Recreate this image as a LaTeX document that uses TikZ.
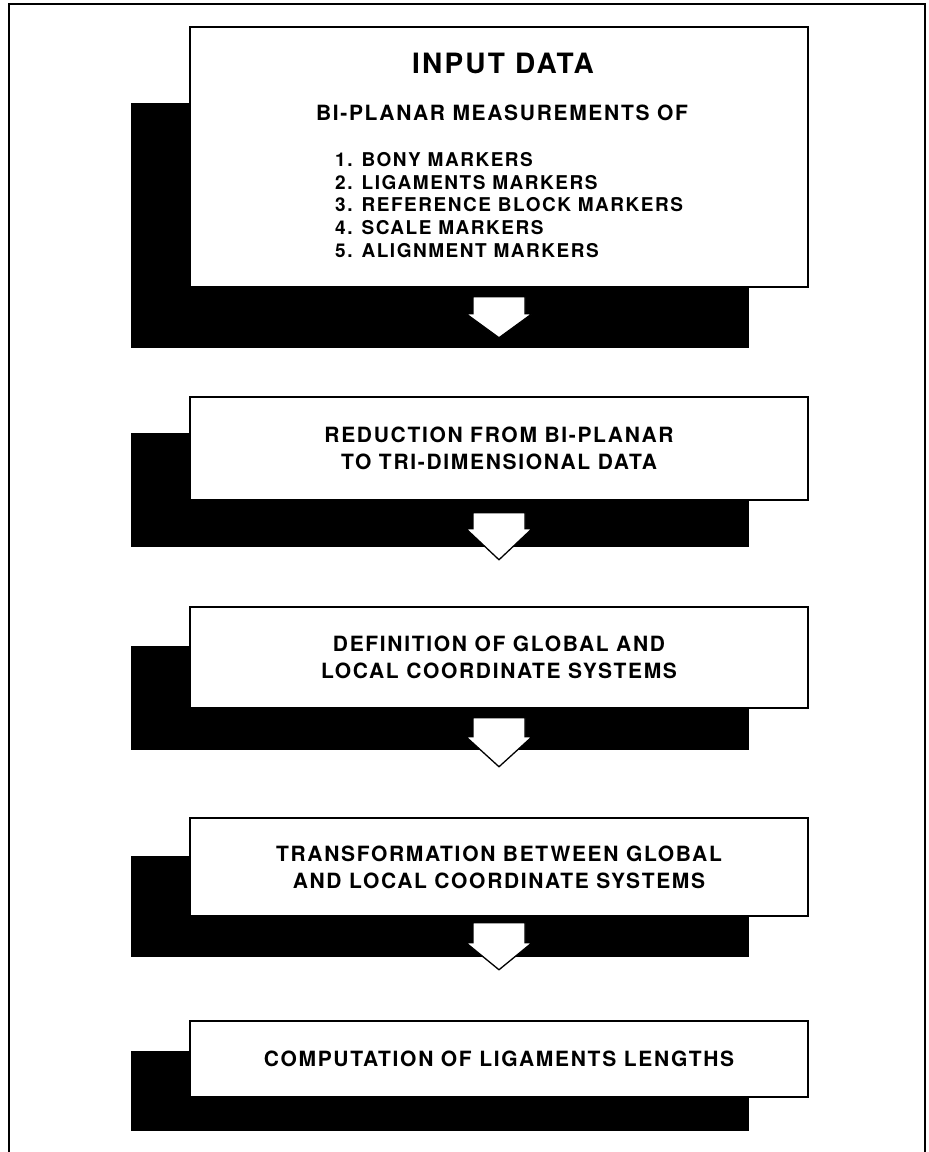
\documentclass[tikz,border=0pt]{standalone}
\usepackage{fontspec}
\usetikzlibrary{calc}
\newfontfamily\chartfont[LetterSpace=8]{TeX Gyre Heros}
\tikzset{
 stage/.style={draw,fill=white,line width=1.5pt,minimum width=618pt,inner sep=0pt},
 stagetext/.style={font=\chartfont\bfseries\fontsize{21}{27}\selectfont,align=center,inner sep=0pt},
 blockarrow/.style={draw,fill=white,line width=1.3pt,line join=miter}
}
% white block arrow under a stage: #2 gap, #3 shaft, #4 head
\newcommand\stagearrow[4]{%
 \filldraw[blockarrow] ($(#1.south)+(-26,#2)$) -- ++(52,0) -- ++(0,#3)
   -- ++(7,0) -- ++(-33,#4) -- ++(-33,-#4) -- ++(7,0) -- cycle;}

\begin{document}
\begin{tikzpicture}[x=1pt,y=-1pt]
 \useasboundingbox (0,0) rectangle (929,1152);
 \draw[line width=1.5pt] (9,1152) |- (925,4) -- (925,1152);
 % shadows
 \fill (131,103) rectangle (749,348);
 \fill (131,433) rectangle (749,547);
 \fill (131,646) rectangle (749,750);
 \fill (131,856) rectangle (749,957);
 \fill (131,1051) rectangle (749,1131);
 % stages
 \node[stage,minimum height=260pt] (input) at (499,157) {};
 \node[stage,minimum height=103pt,stagetext] (reduce) at (499,448.5)
   {REDUCTION FROM BI-PLANAR\\TO TRI-DIMENSIONAL DATA};
 \node[stage,minimum height=101pt,stagetext] (define) at (499,657.5)
   {DEFINITION OF GLOBAL AND\\LOCAL COORDINATE SYSTEMS};
 \node[stage,minimum height=98pt,stagetext] (transform) at (499,867)
   {TRANSFORMATION BETWEEN GLOBAL\\AND LOCAL COORDINATE SYSTEMS};
 \node[stage,minimum height=76pt,stagetext] (compute) at (499,1059)
   {COMPUTATION OF LIGAMENTS LENGTHS};
 % input data text
 \node[stagetext,font=\chartfont\bfseries\fontsize{28}{32}\selectfont]
   (title) at (503,63) {INPUT DATA};
 \node[stagetext] (sub) at (502,113) {BI-PLANAR MEASUREMENTS OF};
 \node[stagetext,align=left,anchor=west,font=\chartfont\bfseries\fontsize{19}{22.9}\selectfont]
   (items) at (335,205) {1. BONY MARKERS\\2. LIGAMENTS MARKERS\\
   3. REFERENCE BLOCK MARKERS\\4. SCALE MARKERS\\
   5. ALIGNMENT MARKERS};
 \stagearrow{input}{9}{17}{24}
 \stagearrow{reduce}{12}{16}{31}
 \stagearrow{define}{9}{19}{30}
 \stagearrow{transform}{6}{20}{27}
\end{tikzpicture}
\end{document}
